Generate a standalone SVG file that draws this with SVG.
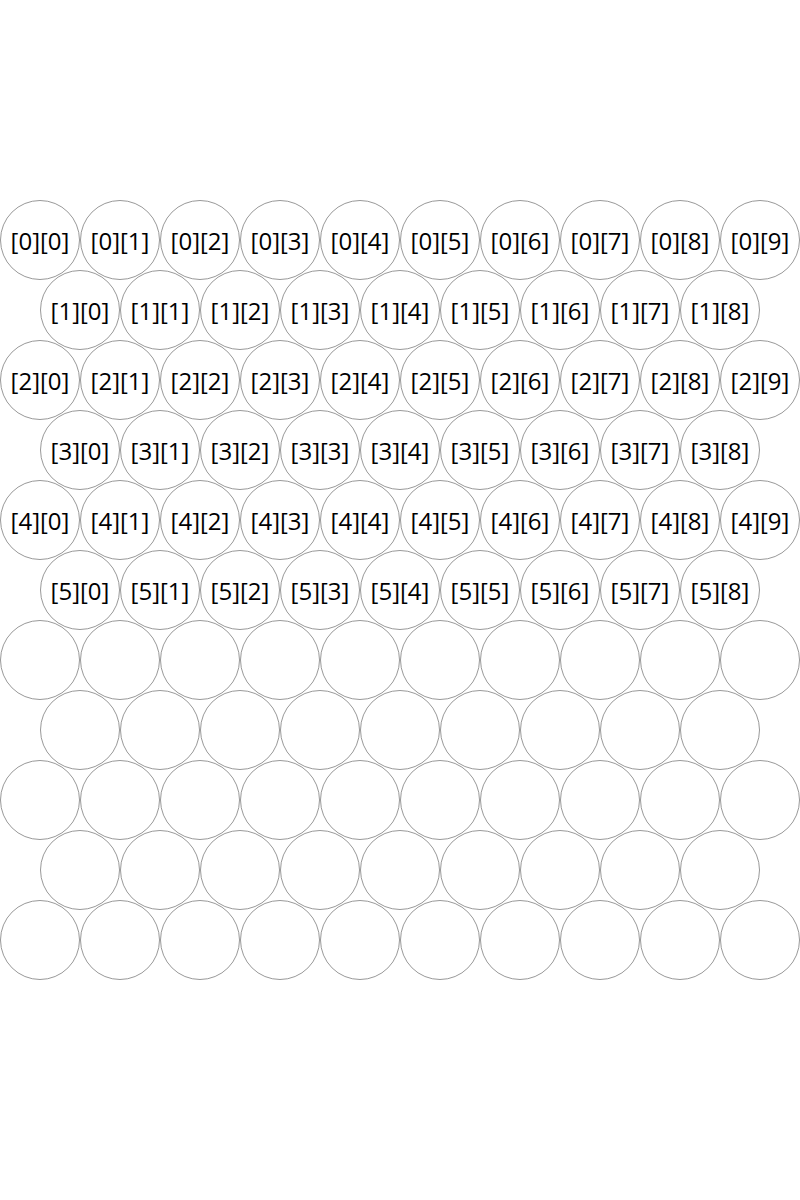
<svg xmlns="http://www.w3.org/2000/svg" width="800" height="1200" viewBox="0 0 800 1200">
<style>
circle{fill:#fff;stroke:#999;stroke-width:1}
text{font-family:"Open Sans","Noto Sans",sans-serif;font-size:24px;fill:#000;text-anchor:middle;dominant-baseline:central}
</style>
<rect width="800" height="1200" fill="#fff"/>
<g id="row0">
<g id="n0_0"><circle cx="40" cy="240" r="39.5"/><text x="40" y="240">[0][0]</text></g>
<g id="n0_1"><circle cx="120" cy="240" r="39.5"/><text x="120" y="240">[0][1]</text></g>
<g id="n0_2"><circle cx="200" cy="240" r="39.5"/><text x="200" y="240">[0][2]</text></g>
<g id="n0_3"><circle cx="280" cy="240" r="39.5"/><text x="280" y="240">[0][3]</text></g>
<g id="n0_4"><circle cx="360" cy="240" r="39.5"/><text x="360" y="240">[0][4]</text></g>
<g id="n0_5"><circle cx="440" cy="240" r="39.5"/><text x="440" y="240">[0][5]</text></g>
<g id="n0_6"><circle cx="520" cy="240" r="39.5"/><text x="520" y="240">[0][6]</text></g>
<g id="n0_7"><circle cx="600" cy="240" r="39.5"/><text x="600" y="240">[0][7]</text></g>
<g id="n0_8"><circle cx="680" cy="240" r="39.5"/><text x="680" y="240">[0][8]</text></g>
<g id="n0_9"><circle cx="760" cy="240" r="39.5"/><text x="760" y="240">[0][9]</text></g>
</g>
<g id="row1">
<g id="n1_0"><circle cx="80" cy="310" r="39.5"/><text x="80" y="310">[1][0]</text></g>
<g id="n1_1"><circle cx="160" cy="310" r="39.5"/><text x="160" y="310">[1][1]</text></g>
<g id="n1_2"><circle cx="240" cy="310" r="39.5"/><text x="240" y="310">[1][2]</text></g>
<g id="n1_3"><circle cx="320" cy="310" r="39.5"/><text x="320" y="310">[1][3]</text></g>
<g id="n1_4"><circle cx="400" cy="310" r="39.5"/><text x="400" y="310">[1][4]</text></g>
<g id="n1_5"><circle cx="480" cy="310" r="39.5"/><text x="480" y="310">[1][5]</text></g>
<g id="n1_6"><circle cx="560" cy="310" r="39.5"/><text x="560" y="310">[1][6]</text></g>
<g id="n1_7"><circle cx="640" cy="310" r="39.5"/><text x="640" y="310">[1][7]</text></g>
<g id="n1_8"><circle cx="720" cy="310" r="39.5"/><text x="720" y="310">[1][8]</text></g>
</g>
<g id="row2">
<g id="n2_0"><circle cx="40" cy="380" r="39.5"/><text x="40" y="380">[2][0]</text></g>
<g id="n2_1"><circle cx="120" cy="380" r="39.5"/><text x="120" y="380">[2][1]</text></g>
<g id="n2_2"><circle cx="200" cy="380" r="39.5"/><text x="200" y="380">[2][2]</text></g>
<g id="n2_3"><circle cx="280" cy="380" r="39.5"/><text x="280" y="380">[2][3]</text></g>
<g id="n2_4"><circle cx="360" cy="380" r="39.5"/><text x="360" y="380">[2][4]</text></g>
<g id="n2_5"><circle cx="440" cy="380" r="39.5"/><text x="440" y="380">[2][5]</text></g>
<g id="n2_6"><circle cx="520" cy="380" r="39.5"/><text x="520" y="380">[2][6]</text></g>
<g id="n2_7"><circle cx="600" cy="380" r="39.5"/><text x="600" y="380">[2][7]</text></g>
<g id="n2_8"><circle cx="680" cy="380" r="39.5"/><text x="680" y="380">[2][8]</text></g>
<g id="n2_9"><circle cx="760" cy="380" r="39.5"/><text x="760" y="380">[2][9]</text></g>
</g>
<g id="row3">
<g id="n3_0"><circle cx="80" cy="450" r="39.5"/><text x="80" y="450">[3][0]</text></g>
<g id="n3_1"><circle cx="160" cy="450" r="39.5"/><text x="160" y="450">[3][1]</text></g>
<g id="n3_2"><circle cx="240" cy="450" r="39.5"/><text x="240" y="450">[3][2]</text></g>
<g id="n3_3"><circle cx="320" cy="450" r="39.5"/><text x="320" y="450">[3][3]</text></g>
<g id="n3_4"><circle cx="400" cy="450" r="39.5"/><text x="400" y="450">[3][4]</text></g>
<g id="n3_5"><circle cx="480" cy="450" r="39.5"/><text x="480" y="450">[3][5]</text></g>
<g id="n3_6"><circle cx="560" cy="450" r="39.5"/><text x="560" y="450">[3][6]</text></g>
<g id="n3_7"><circle cx="640" cy="450" r="39.5"/><text x="640" y="450">[3][7]</text></g>
<g id="n3_8"><circle cx="720" cy="450" r="39.5"/><text x="720" y="450">[3][8]</text></g>
</g>
<g id="row4">
<g id="n4_0"><circle cx="40" cy="520" r="39.5"/><text x="40" y="520">[4][0]</text></g>
<g id="n4_1"><circle cx="120" cy="520" r="39.5"/><text x="120" y="520">[4][1]</text></g>
<g id="n4_2"><circle cx="200" cy="520" r="39.5"/><text x="200" y="520">[4][2]</text></g>
<g id="n4_3"><circle cx="280" cy="520" r="39.5"/><text x="280" y="520">[4][3]</text></g>
<g id="n4_4"><circle cx="360" cy="520" r="39.5"/><text x="360" y="520">[4][4]</text></g>
<g id="n4_5"><circle cx="440" cy="520" r="39.5"/><text x="440" y="520">[4][5]</text></g>
<g id="n4_6"><circle cx="520" cy="520" r="39.5"/><text x="520" y="520">[4][6]</text></g>
<g id="n4_7"><circle cx="600" cy="520" r="39.5"/><text x="600" y="520">[4][7]</text></g>
<g id="n4_8"><circle cx="680" cy="520" r="39.5"/><text x="680" y="520">[4][8]</text></g>
<g id="n4_9"><circle cx="760" cy="520" r="39.5"/><text x="760" y="520">[4][9]</text></g>
</g>
<g id="row5">
<g id="n5_0"><circle cx="80" cy="590" r="39.5"/><text x="80" y="590">[5][0]</text></g>
<g id="n5_1"><circle cx="160" cy="590" r="39.5"/><text x="160" y="590">[5][1]</text></g>
<g id="n5_2"><circle cx="240" cy="590" r="39.5"/><text x="240" y="590">[5][2]</text></g>
<g id="n5_3"><circle cx="320" cy="590" r="39.5"/><text x="320" y="590">[5][3]</text></g>
<g id="n5_4"><circle cx="400" cy="590" r="39.5"/><text x="400" y="590">[5][4]</text></g>
<g id="n5_5"><circle cx="480" cy="590" r="39.5"/><text x="480" y="590">[5][5]</text></g>
<g id="n5_6"><circle cx="560" cy="590" r="39.5"/><text x="560" y="590">[5][6]</text></g>
<g id="n5_7"><circle cx="640" cy="590" r="39.5"/><text x="640" y="590">[5][7]</text></g>
<g id="n5_8"><circle cx="720" cy="590" r="39.5"/><text x="720" y="590">[5][8]</text></g>
</g>
<g id="row6">
<g id="n6_0"><circle cx="40" cy="660" r="39.5"/></g>
<g id="n6_1"><circle cx="120" cy="660" r="39.5"/></g>
<g id="n6_2"><circle cx="200" cy="660" r="39.5"/></g>
<g id="n6_3"><circle cx="280" cy="660" r="39.5"/></g>
<g id="n6_4"><circle cx="360" cy="660" r="39.5"/></g>
<g id="n6_5"><circle cx="440" cy="660" r="39.5"/></g>
<g id="n6_6"><circle cx="520" cy="660" r="39.5"/></g>
<g id="n6_7"><circle cx="600" cy="660" r="39.5"/></g>
<g id="n6_8"><circle cx="680" cy="660" r="39.5"/></g>
<g id="n6_9"><circle cx="760" cy="660" r="39.5"/></g>
</g>
<g id="row7">
<g id="n7_0"><circle cx="80" cy="730" r="39.5"/></g>
<g id="n7_1"><circle cx="160" cy="730" r="39.5"/></g>
<g id="n7_2"><circle cx="240" cy="730" r="39.5"/></g>
<g id="n7_3"><circle cx="320" cy="730" r="39.5"/></g>
<g id="n7_4"><circle cx="400" cy="730" r="39.5"/></g>
<g id="n7_5"><circle cx="480" cy="730" r="39.5"/></g>
<g id="n7_6"><circle cx="560" cy="730" r="39.5"/></g>
<g id="n7_7"><circle cx="640" cy="730" r="39.5"/></g>
<g id="n7_8"><circle cx="720" cy="730" r="39.5"/></g>
</g>
<g id="row8">
<g id="n8_0"><circle cx="40" cy="800" r="39.5"/></g>
<g id="n8_1"><circle cx="120" cy="800" r="39.5"/></g>
<g id="n8_2"><circle cx="200" cy="800" r="39.5"/></g>
<g id="n8_3"><circle cx="280" cy="800" r="39.5"/></g>
<g id="n8_4"><circle cx="360" cy="800" r="39.5"/></g>
<g id="n8_5"><circle cx="440" cy="800" r="39.5"/></g>
<g id="n8_6"><circle cx="520" cy="800" r="39.5"/></g>
<g id="n8_7"><circle cx="600" cy="800" r="39.5"/></g>
<g id="n8_8"><circle cx="680" cy="800" r="39.5"/></g>
<g id="n8_9"><circle cx="760" cy="800" r="39.5"/></g>
</g>
<g id="row9">
<g id="n9_0"><circle cx="80" cy="870" r="39.5"/></g>
<g id="n9_1"><circle cx="160" cy="870" r="39.5"/></g>
<g id="n9_2"><circle cx="240" cy="870" r="39.5"/></g>
<g id="n9_3"><circle cx="320" cy="870" r="39.5"/></g>
<g id="n9_4"><circle cx="400" cy="870" r="39.5"/></g>
<g id="n9_5"><circle cx="480" cy="870" r="39.5"/></g>
<g id="n9_6"><circle cx="560" cy="870" r="39.5"/></g>
<g id="n9_7"><circle cx="640" cy="870" r="39.5"/></g>
<g id="n9_8"><circle cx="720" cy="870" r="39.5"/></g>
</g>
<g id="row10">
<g id="n10_0"><circle cx="40" cy="940" r="39.5"/></g>
<g id="n10_1"><circle cx="120" cy="940" r="39.5"/></g>
<g id="n10_2"><circle cx="200" cy="940" r="39.5"/></g>
<g id="n10_3"><circle cx="280" cy="940" r="39.5"/></g>
<g id="n10_4"><circle cx="360" cy="940" r="39.5"/></g>
<g id="n10_5"><circle cx="440" cy="940" r="39.5"/></g>
<g id="n10_6"><circle cx="520" cy="940" r="39.5"/></g>
<g id="n10_7"><circle cx="600" cy="940" r="39.5"/></g>
<g id="n10_8"><circle cx="680" cy="940" r="39.5"/></g>
<g id="n10_9"><circle cx="760" cy="940" r="39.5"/></g>
</g>
<g id="connectors"/>
</svg>
